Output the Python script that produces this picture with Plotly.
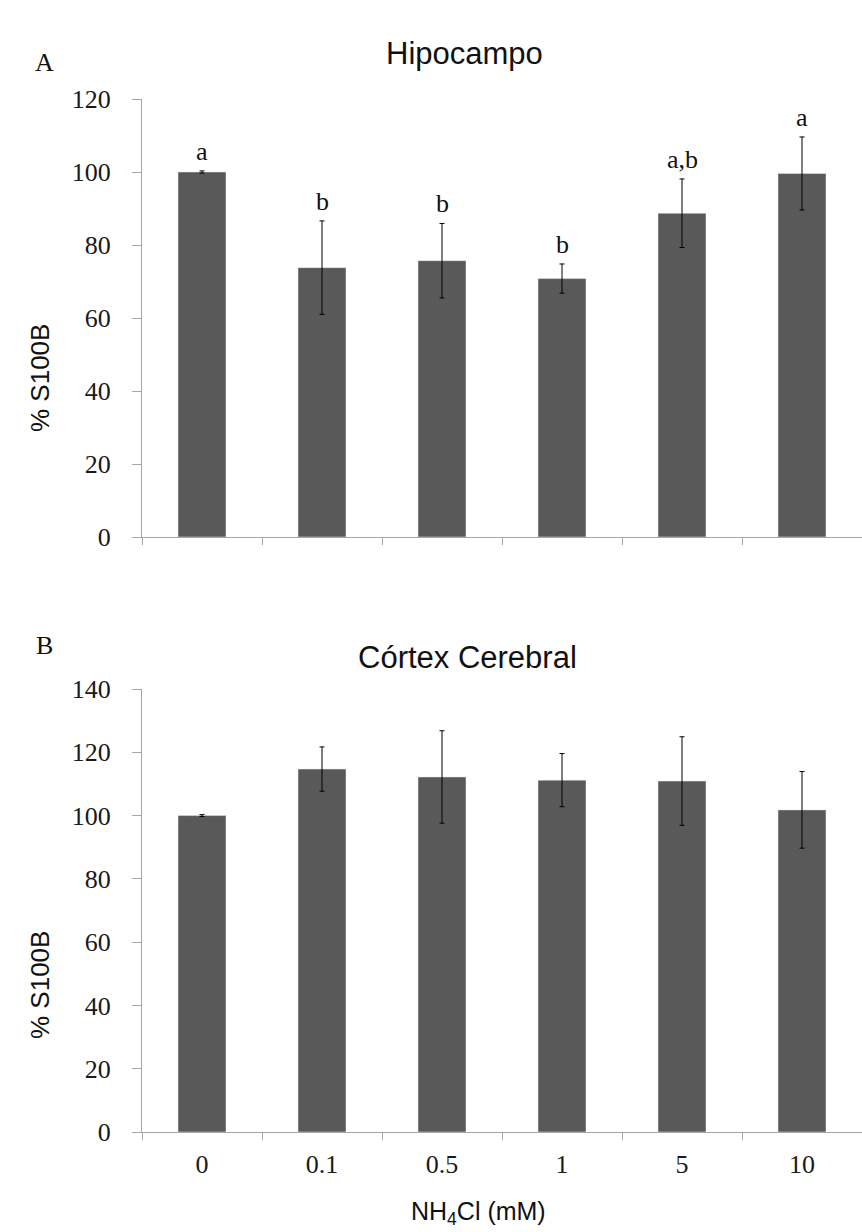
import plotly.graph_objects as go

W, H = 862, 1232

categories = ["0", "0.1", "0.5", "1", "5", "10"]
hipo_vals = [100.0, 73.8, 75.7, 70.8, 88.7, 99.6]
hipo_err = [0.3, 12.8, 10.2, 4.0, 9.4, 10.0]
hipo_letters = ["a", "b", "b", "b", "a,b", "a"]
cortex_vals = [100.0, 114.7, 112.2, 111.2, 110.9, 101.8]
cortex_err = [0.3, 7.0, 14.6, 8.4, 14.0, 12.1]
y_ticks_a = [0, 20, 40, 60, 80, 100, 120]
y_ticks_b = [0, 20, 40, 60, 80, 100, 120, 140]

BAR = "#595959"
AX = "#a6a6a6"
SERIF = "Liberation Serif, Times New Roman, serif"
SANS = "Liberation Sans, Arial, sans-serif"

xpos = list(range(len(categories)))
bounds = [i - 0.5 for i in range(len(categories) + 1)]

fig = go.Figure()
fig.add_trace(go.Bar(x=xpos, y=hipo_vals, marker_color=BAR, width=0.4,
                     error_y=dict(type="data", array=hipo_err, color="black", thickness=1, width=2.5),
                     xaxis="x", yaxis="y", showlegend=False))
fig.add_trace(go.Bar(x=xpos, y=cortex_vals, marker_color=BAR, width=0.4,
                     error_y=dict(type="data", array=cortex_err, color="black", thickness=1, width=2.5),
                     xaxis="x2", yaxis="y2", showlegend=False))

def px_y(p):
    return 1 - p / H

xdom = [142 / W, 1.0]
xcommon = dict(range=[-0.5, 5.5], showline=True, linecolor=AX, linewidth=1, automargin=False,
               showgrid=False, zeroline=False, fixedrange=True, tickvals=xpos, ticks="",
               minor=dict(tickvals=bounds, ticks="outside", ticklen=7, tickcolor=AX, tickwidth=1, showgrid=False))
ycommon = dict(showline=True, linecolor=AX, linewidth=1, showgrid=False, zeroline=False, automargin=False,
               ticks="outside", ticklen=9, tickcolor=AX, fixedrange=True, ticklabelstandoff=16,
               tickfont=dict(family=SERIF, size=26, color="#1a1a1a"))

fig.update_layout(
    width=W, height=H, autosize=False,
    margin=dict(l=0, r=0, t=0, b=0, pad=0, autoexpand=False),
    plot_bgcolor="white", paper_bgcolor="white",
    xaxis=dict(domain=xdom, anchor="y", showticklabels=False, **xcommon),
    yaxis=dict(domain=[px_y(537), px_y(99)], range=[0, 120], tickvals=y_ticks_a, anchor="x", **ycommon),
    xaxis2=dict(domain=xdom, anchor="y2", ticktext=categories, ticklabelstandoff=9,
                tickfont=dict(family=SERIF, size=26, color="#1a1a1a"), **xcommon),
    yaxis2=dict(domain=[px_y(1132), px_y(689)], range=[0, 140], tickvals=y_ticks_b, anchor="x2", **ycommon),
)

for i, (v, e, t) in enumerate(zip(hipo_vals, hipo_err, hipo_letters)):
    fig.add_annotation(x=i, y=v + e, xref="x", yref="y", text=t, showarrow=False,
                       yanchor="bottom", yshift=3, font=dict(family=SERIF, size=26, color="#111"))

def ann(x, y, text, font, size, angle=0, xanchor="center"):
    fig.add_annotation(x=x / W, y=px_y(y), xref="paper", yref="paper", text=text, showarrow=False,
                       xanchor=xanchor, yanchor="middle", textangle=angle,
                       font=dict(family=font, size=size, color="#111"))

ann(464, 53, "Hipocampo", SANS, 31)
ann(467, 657, "Córtex Cerebral", SANS, 31)
ann(44, 62, "A", SERIF, 26)
ann(44, 645, "B", SERIF, 26)
ann(40, 378, "% S100B", SANS, 26, angle=-90)
ann(40, 985, "% S100B", SANS, 26, angle=-90)
ann(478, 1213, "NH<sub>4</sub>Cl (mM)", SANS, 25)

post = ("document.documentElement.style.margin='0';document.documentElement.style.overflow='hidden';"
        "document.body.style.margin='0';document.body.style.overflow='hidden';"
        "var d=document.getElementById('{plot_id}');d.style.position='fixed';d.style.top='0';d.style.left='0';")
fig.write_html("out.html", config={"displayModeBar": False, "staticPlot": True}, post_script=post)
